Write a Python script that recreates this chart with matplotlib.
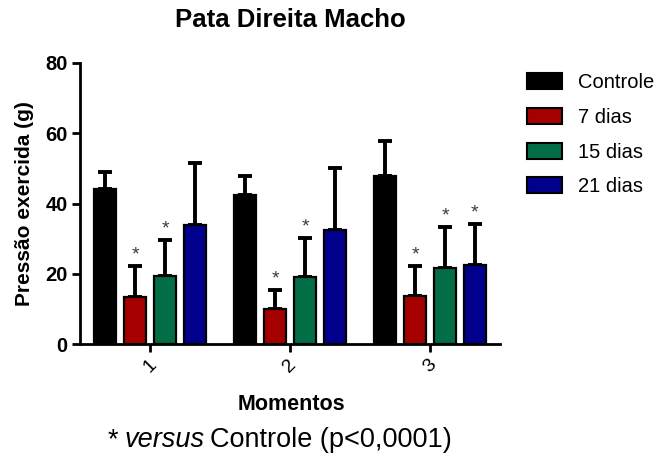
import matplotlib
matplotlib.use("Agg")
import matplotlib.pyplot as plt
import numpy as np
from matplotlib.patches import Patch

plt.rcParams['font.family'] = ['Liberation Sans', 'DejaVu Sans']

moments = ['1', '2', '3']
series = ['Controle', '7 dias', '15 dias', '21 dias']
means = {
    'Controle': [44.1, 42.3, 47.7],
    '7 dias': [13.3, 9.9, 13.7],
    '15 dias': [19.4, 19.0, 21.6],
    '21 dias': [33.9, 32.5, 22.5],
}
errors = {
    'Controle': [5.0, 5.4, 10.2],
    '7 dias': [8.9, 5.5, 8.5],
    '15 dias': [10.2, 11.1, 11.6],
    '21 dias': [17.6, 17.7, 11.6],
}
significant = {
    'Controle': [False, False, False],
    '7 dias': [True, True, True],
    '15 dias': [True, True, True],
    '21 dias': [False, False, True],
}
colors = ['#000000', '#a50000', '#036e46', '#00008c']

fig = plt.figure(figsize=(6.65, 4.59), dpi=100)
ax = fig.add_axes([80/665, 1-344/459, 420/665, 281/459])

x = np.arange(1, len(moments)+1)
offsets = [-0.32, -0.107, 0.107, 0.32]
width = 0.155
for i, s in enumerate(series):
    xs = x + offsets[i]
    ax.bar(xs, means[s], width=width, color=colors[i], edgecolor='black', linewidth=1.6, zorder=3)
    ax.errorbar(xs, means[s], yerr=[np.zeros(3), errors[s]], fmt='none', ecolor='black',
                elinewidth=2.8, capsize=5, capthick=2.8, zorder=2)
    for j in range(3):
        if significant[s][j]:
            ax.text(xs[j], means[s][j] + errors[s][j] + 0.8, '*', ha='center', va='bottom',
                    fontsize=14, color='#3a3a3a')

ax.set_xlim(0.5, 3.5)
ax.set_ylim(0, 80)
ax.set_yticks([0, 20, 40, 60, 80])
ax.set_xticks(x)
ax.set_xticklabels(moments, rotation=45, ha='center', va='top')
ax.spines['top'].set_visible(False)
ax.spines['right'].set_visible(False)
for sp in ['left', 'bottom']:
    ax.spines[sp].set_linewidth(2)
ax.tick_params(axis='both', width=2, length=6)
ax.tick_params(axis='y', labelsize=14.5, pad=3)
ax.tick_params(axis='x', labelsize=14, pad=3)
for lab in ax.get_yticklabels():
    lab.set_fontweight('bold')

ax.set_ylabel('Pressão exercida (g)', fontsize=15, fontweight='bold')
ax.yaxis.set_label_coords(-46/420, 0.5)
fig.text(290/665, 1-20/459, 'Pata Direita Macho', ha='center', va='center',
         fontsize=18.5, fontweight='bold')
fig.text(291/665, 1-405/459, 'Momentos', ha='center', va='center', fontsize=15.5, fontweight='bold')

# bottom note composed of normal and italic pieces
t0 = fig.text(108/665, 1-440/459, '*', ha='left', va='center', fontsize=19.5)
fig.canvas.draw()
bb0 = t0.get_window_extent()
t1 = fig.text((bb0.x1 + 6)/665, 1-440/459, 'versus', ha='left', va='center', fontsize=19.5, style='italic')
fig.canvas.draw()
bb = t1.get_window_extent()
fig.text((bb.x1 + 5)/665, 1-440/459, 'Controle (p<0,0001)', ha='left', va='center', fontsize=19.5)

handles = [Patch(facecolor=c, edgecolor='black', linewidth=1.5) for c in colors]
fs_leg = 14.5
leg = fig.legend(handles, series, loc='upper left', bbox_to_anchor=(509/665, 1-55/459),
                 frameon=False, fontsize=fs_leg, handlelength=1.75, handleheight=0.85,
                 labelspacing=0.78, handletextpad=0.8, borderpad=0.4)

fig.savefig('out.png', dpi=100)
